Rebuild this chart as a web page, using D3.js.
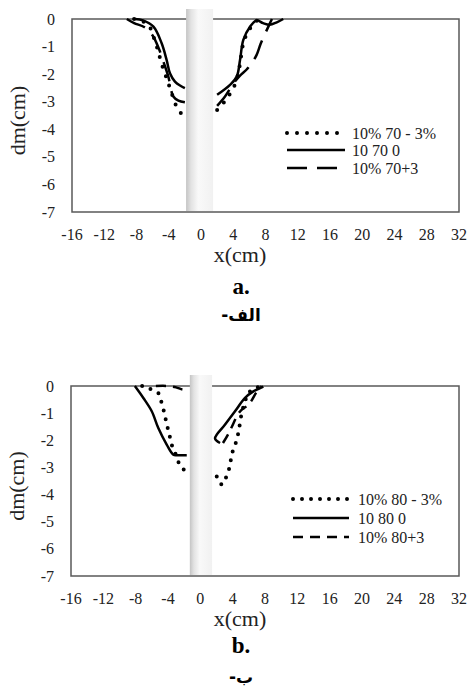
<!DOCTYPE html>
<html lang="en">
<head>
  <meta charset="UTF-8">
  <title>dm profiles around the pier</title>
  <script src="https://d3js.org/d3.v7.min.js"></script>
</head>

<body style="margin:0;background:#fff">

<div id="chart"></div>

<script>

// tick labels
var xTicks = [-16, -12, -8, -4, 0, 4, 8, 12, 16, 20, 24, 28, 32];
var yTicks = [0, -1, -2, -3, -4, -5, -6, -7];

// panel a series (null = gap between left and right of pier)
var aNames = ["10% 70 - 3%", "10 70 0", "10% 70+3"];
var aDotX = [-8.3, -7.5, -6.5, -5.9, -5.5, -5.1, -4.7, -4.26, -3.85, -3.43, -2.94, -2.2, null,
             2.0, 2.75, 3.4, 4.1, 4.6, 4.85, 5.05, 5.3, 5.7, 6.4, 7.0, 7.6];
var aDotY = [0, -0.05, -0.22, -0.64, -0.98, -1.4, -1.79, -2.15, -2.51, -2.87, -3.24, -3.51, null,
             -3.3, -3.06, -2.8, -2.45, -2.0, -1.6, -1.2, -0.8, -0.55, -0.2, -0.05, 0];
var aSolidX = [-8.2, -7.2, -5.9, -4.88, -4.26, -3.85, -3.23, -2.5, -2.0, null,
               2.0, 3.6, 4.43, 4.84, 5.25, 6.08, 6.9, 7.7, 8.5, 9.4, 10.2];
var aSolidY = [0, -0.05, -0.28, -0.88, -1.49, -1.97, -2.27, -2.43, -2.51, null,
               -2.75, -2.39, -2.09, -1.49, -0.76, -0.28, -0.05, -0.15, -0.21, -0.12, 0];
var aDashX = [-9.2, -8.3, -7, -6, -5.2, -4.6, -4.05, -3.43, -2.8, -2.0, null,
              2.0, 3.0, 4.0, 4.84, 5.6, 6.3, 6.9, 7.4, 8.0, 8.4, 8.8];
var aDashY = [0, -0.15, -0.3, -0.6, -1.1, -1.6, -2.09, -2.81, -2.96, -3.02, null,
              -3.15, -2.8, -2.35, -2.05, -1.85, -1.6, -1.3, -0.9, -0.5, -0.25, 0];

// panel b series
var bNames = ["10% 80 - 3%", "10 80 0", "10% 80+3"];
var bDotX = [-7.2, -6.5, -5.2, -4.78, -4.45, -4.16, -3.83, -3.54, -3.0, -2.51, -1.48, null,
             2.03, 2.65, 3.27, 3.67, 3.88, 4.38, 4.7, 4.91, 5.12, 5.5, 5.94, 6.8, 7.6];
var bDotY = [0, -0.07, -0.26, -0.63, -1.0, -1.4, -1.79, -2.16, -2.55, -2.92, -3.24, null,
             -3.33, -3.63, -3.3, -2.92, -2.53, -2.1, -1.73, -1.36, -1.0, -0.6, -0.26, -0.08, 0];
var bSolidX = [-8.1, -7.05, -6.01, -5.2, -4.16, -3.34, -2.9, -1.68, null,
               2.44, 1.82, 3.06, 4.29, 5.53, 6.56, 7.8];
var bSolidY = [0, -0.44, -0.93, -1.55, -2.16, -2.53, -2.55, -2.55, null,
               -2.1, -1.93, -1.42, -0.93, -0.44, -0.2, -0.02];
var bDashX = [-5.5, -4, -3, -2.2, -1.7, null,
              2.8, 3.4, 3.9, 4.6, 5.1, 5.7, 6.3, 6.9, 7.6];
var bDashY = [0, 0, -0.05, -0.13, -0.13, null,
              -2.1, -1.8, -1.5, -1.07, -0.88, -0.75, -0.55, -0.25, 0];

var W = 467, H = 690;
var serif = "'Liberation Serif', 'Times New Roman', serif";

var svg = d3.select("#chart").append("svg")
  .attr("width", W)
  .attr("height", H)
  .style("display", "block");

var defs = svg.append("defs");
var grad = defs.append("linearGradient").attr("id", "pier").attr("x1", "0").attr("x2", "1");
grad.append("stop").attr("offset", "0%").attr("stop-color", "#c4c4c4");
grad.append("stop").attr("offset", "18%").attr("stop-color", "#e2e2e2");
grad.append("stop").attr("offset", "45%").attr("stop-color", "#f9f9f9");
grad.append("stop").attr("offset", "100%").attr("stop-color", "#f1f1f1");

function zip(xs, ys) {
  return xs.map((x, i) => ({x: x, y: ys[i]}));
}

var panels = [
  {
    left: 72, top: 19, width: 387, height: 193,
    pier: [-1.85, 1.5], pierTop: 9,
    series: [zip(aDotX, aDotY), zip(aSolidX, aSolidY), zip(aDashX, aDashY)],
    names: aNames,
    dashes: ["0 10", null, "20 10"],
    legend: {x0: 215, x1: 273, tx: 280, rows: [114, 131, 149]},
    caption: "a.", capY: 82, arabic: "الف-", arY: 109
  },
  {
    left: 71, top: 386, width: 388, height: 190,
    pier: [-1.3, 1.45], pierTop: 375,
    series: [zip(bDotX, bDotY), zip(bSolidX, bSolidY), zip(bDashX, bDashY)],
    names: bNames,
    dashes: ["0 9", null, "10 7"],
    legend: {x0: 222, x1: 278, tx: 287, rows: [113, 132, 151]},
    caption: "b.", capY: 77, arabic: "ب-", arY: 107
  }
];

panels.forEach(function(p) {
  var x = d3.scaleLinear().domain([-16, 32]).range([p.left, p.left + p.width]);
  var y = d3.scaleLinear().domain([-7, 0]).range([p.top + p.height, p.top]);

  // frame
  svg.append("rect")
    .attr("x", p.left).attr("y", p.top)
    .attr("width", p.width).attr("height", p.height)
    .attr("fill", "none")
    .attr("stroke", "#595959")
    .attr("stroke-width", 1.5);

  // pier
  svg.append("rect")
    .attr("x", x(p.pier[0]))
    .attr("y", p.pierTop)
    .attr("width", x(p.pier[1]) - x(p.pier[0]))
    .attr("height", p.top + p.height - 1 - p.pierTop)
    .attr("fill", "url(#pier)");

  // y tick labels
  svg.append("g").selectAll("text")
    .data(yTicks)
    .join("text")
      .attr("x", p.left - 17)
      .attr("y", d => y(d))
      .attr("dy", "0.35em")
      .attr("text-anchor", "end")
      .style("font-family", serif)
      .style("font-size", "16px")
      .attr("fill", "#222")
      .text(d => d);

  // x tick labels
  svg.append("g").selectAll("text")
    .data(xTicks)
    .join("text")
      .attr("x", d => x(d))
      .attr("y", p.top + p.height + 28)
      .attr("text-anchor", "middle")
      .style("font-family", serif)
      .style("font-size", "16px")
      .attr("fill", "#222")
      .text(d => d);

  // axis titles
  svg.append("text")
    .attr("x", 240)
    .attr("y", p.top + p.height + 50)
    .attr("text-anchor", "middle")
    .style("font-family", serif)
    .style("font-size", "22px")
    .attr("fill", "#222")
    .text("x(cm)");

  svg.append("text")
    .attr("transform", "translate(" + (p.left - 47) + "," + (p.top + p.height / 2 + 5) + ") rotate(-90)")
    .attr("text-anchor", "middle")
    .style("font-family", serif)
    .style("font-size", "22px")
    .attr("fill", "#222")
    .text("dm(cm)");

  // series
  var line = d3.line()
    .defined(d => d.x != null && d.y != null)
    .x(d => x(d.x))
    .y(d => y(d.y))
    .curve(d3.curveCatmullRom.alpha(0.5));

  p.series.forEach(function(s, i) {
    svg.append("path")
      .datum(s)
      .attr("fill", "none")
      .attr("stroke", "#000")
      .attr("stroke-width", i === 0 ? 4 : 2.5)
      .attr("stroke-linecap", i === 0 ? "round" : "butt")
      .attr("stroke-dasharray", p.dashes[i])
      .attr("d", line);
  });

  // legend
  var lg = svg.append("g").attr("transform", "translate(" + p.left + "," + p.top + ")");
  p.names.forEach(function(name, i) {
    lg.append("line")
      .attr("x1", p.legend.x0).attr("x2", p.legend.x1)
      .attr("y1", p.legend.rows[i]).attr("y2", p.legend.rows[i])
      .attr("stroke", "#000")
      .attr("stroke-width", i === 0 ? 4 : 2.5)
      .attr("stroke-linecap", i === 0 ? "round" : "butt")
      .attr("stroke-dasharray", p.dashes[i]);
    lg.append("text")
      .attr("x", p.legend.tx)
      .attr("y", p.legend.rows[i])
      .attr("dy", "0.35em")
      .style("font-family", serif)
      .style("font-size", "16px")
      .attr("fill", "#222")
      .text(name);
  });

  // captions
  svg.append("text")
    .attr("x", 241)
    .attr("y", p.top + p.height + p.capY)
    .attr("text-anchor", "middle")
    .style("font-family", serif)
    .style("font-size", "23px")
    .style("font-weight", "bold")
    .text(p.caption);

  svg.append("text")
    .attr("x", 241)
    .attr("y", p.top + p.height + p.arY)
    .attr("text-anchor", "middle")
    .attr("direction", "rtl")
    .style("font-family", "'DejaVu Sans', sans-serif")
    .style("font-size", "17px")
    .style("font-weight", "bold")
    .text(p.arabic);
});

</script>

</body>
</html>
